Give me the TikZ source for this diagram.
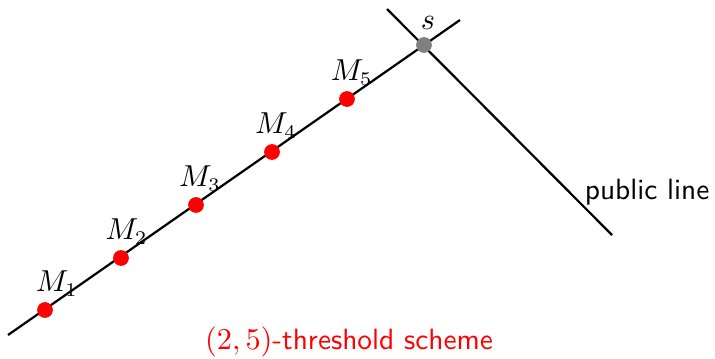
\documentclass[tikz,border=0pt]{standalone}
\begin{document}
\begin{tikzpicture}[x=0.0127cm, y=-0.0127cm, every node/.style={font=\fontsize{10.6}{12.5}\selectfont},
  share/.style={circle,fill=red,inner sep=0pt,minimum size=0.2cm},
  secret/.style={circle,fill=gray,inner sep=0pt,minimum size=0.2cm}]
\useasboundingbox (0,0) rectangle (715,358);
\coordinate (lo) at (8,335);
\coordinate (hi) at (460,20);
\coordinate (pt) at (387,9);
\coordinate (pb) at (612,235);
\draw[thick] (lo)--(hi);
\draw[thick] (pt)--(pb);
\node[share,label={[xshift=0.15cm,yshift=-0.06cm]above:$M_1$}] (m1) at (45,310) {};
\node[share,label={[xshift=0.07cm,yshift=-0.06cm]above:$M_2$}] (m2) at (121,258) {};
\node[share,label={[xshift=0.05cm,yshift=-0.06cm]above:$M_3$}] (m3) at (196,205) {};
\node[share,label={[xshift=0.05cm,yshift=-0.06cm]above:$M_4$}] (m4) at (272,152) {};
\node[share,label={[xshift=0.06cm,yshift=-0.06cm]above:$M_5$}] (m5) at (347,99) {};
\node[secret,label={[xshift=0.05cm,yshift=-0.03cm]above:$s$}] (s) at (424,45) {};
\node[anchor=east,inner sep=0pt,font=\fontsize{10.6}{12.5}\selectfont\sffamily] (pub) at (710,192) {public line};
\node[red,font=\fontsize{10.6}{12.5}\selectfont\sffamily] (cap) at (349,342) {$(2,5)$-threshold scheme};
\end{tikzpicture}
\end{document}
